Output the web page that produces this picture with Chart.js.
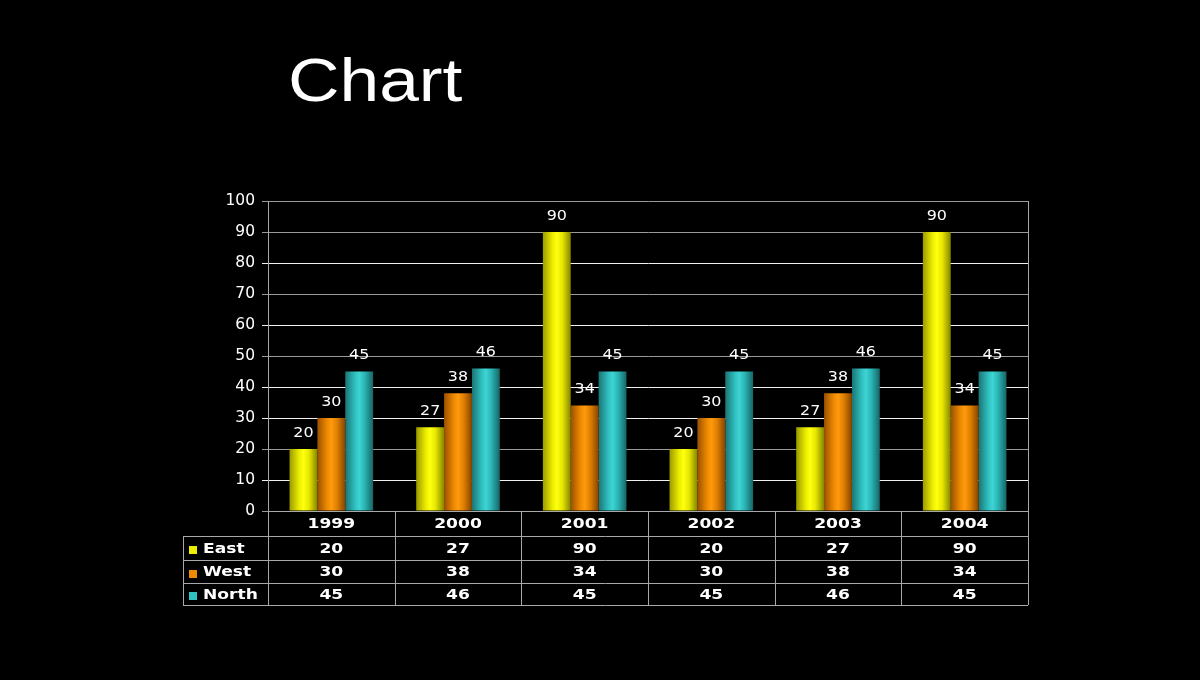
<!DOCTYPE html>
<html>
<head>
<meta charset="utf-8">
<style>
  html, body { margin: 0; padding: 0; background: #000; }
  #wrap { width: 1200px; height: 680px; }
</style>
<script src="https://cdn.jsdelivr.net/npm/chart.js@4/dist/chart.umd.min.js"></script>
</head>
<body>
<div id="wrap"><canvas id="chart1"></canvas></div>
<script>
const years = ['1999', '2000', '2001', '2002', '2003', '2004'];
const east = [20, 27, 90, 20, 27, 90];
const west = [30, 38, 34, 30, 38, 34];
const north = [45, 46, 45, 45, 46, 45];
const yTicks = [0, 10, 20, 30, 40, 50, 60, 70, 80, 90, 100];

// dark edge, bright middle, dark edge
const shades = [
    ['#9a9a00', '#eded00', '#ffff10', '#e6e600', '#858500'],
    ['#9a5000', '#ee8a00', '#ff9a10', '#e08000', '#854400'],
    ['#1c7474', '#2fc0c0', '#3fd4d4', '#2ab4b4', '#186464']
];
const CAT_PCT = 0.66;
const STRETCH = 1.18;
const gridWhite = [10, 30, 40, 60, 80];

function barFill(c) {
    const s = shades[c.datasetIndex];
    const xs = c.chart.scales.x;
    if (!xs || c.type !== 'data') return s[1];
    const w = xs.width / years.length * CAT_PCT / 3;
    const cx = xs.getPixelForValue(c.dataIndex) + (c.datasetIndex - 1) * w;
    if (!isFinite(cx)) return s[1];
    const g = c.chart.ctx.createLinearGradient(cx - w / 2, 0, cx + w / 2, 0);
    g.addColorStop(0, s[0]);
    g.addColorStop(0.35, s[1]);
    g.addColorStop(0.5, s[2]);
    g.addColorStop(0.7, s[3]);
    g.addColorStop(1, s[4]);
    return g;
}

function wideText(ctx, txt, x, y, font, align) {
    ctx.save();
    ctx.font = font;
    ctx.textBaseline = 'middle';
    ctx.textAlign = align;
    ctx.translate(x, y);
    ctx.scale(STRETCH, 1);
    ctx.fillText(txt, 0, 0);
    ctx.restore();
}

const slide = {
    id: 'slide',
    beforeDraw(chart) {
        const ctx = chart.ctx;
        ctx.save();
        ctx.fillStyle = '#000';
        ctx.fillRect(0, 0, chart.width, chart.height);
        ctx.fillStyle = '#fff';
        ctx.font = '62px "Liberation Sans", Arial, sans-serif';
        ctx.textBaseline = 'alphabetic';
        ctx.translate(288, 101);
        ctx.scale(1.15, 1);
        ctx.fillText('Chart', 0, 0);
        ctx.restore();
    },
    afterDatasetsDraw(chart) {
        const ctx = chart.ctx;
        ctx.fillStyle = '#fff';
        chart.data.datasets.forEach((ds, i) => {
            chart.getDatasetMeta(i).data.forEach((el, j) => {
                wideText(ctx, String(ds.data[j]), el.x, el.y - 16, '13.5px "DejaVu Sans", Verdana, sans-serif', 'center');
            });
        });
    },
    afterDraw(chart) {
        const ctx = chart.ctx;
        const xs = chart.scales.x;
        const area = chart.chartArea;
        const cw = xs.width / years.length;
        const left = 183;
        const rows = [area.bottom, area.bottom + 25, area.bottom + 49, area.bottom + 72, area.bottom + 94];
        ctx.save();
        ctx.strokeStyle = '#a8a8a8';
        ctx.lineWidth = 1;
        ctx.beginPath();
        // right border of the plot
        ctx.moveTo(area.right + 0.5, area.top);
        ctx.lineTo(area.right + 0.5, rows[4]);
        // row lines
        rows.forEach((y, k) => {
            ctx.moveTo(k === 0 ? area.left : left, Math.round(y) + 0.5);
            ctx.lineTo(area.right, Math.round(y) + 0.5);
        });
        // column lines
        ctx.moveTo(left + 0.5, rows[1]);
        ctx.lineTo(left + 0.5, rows[4]);
        for (let k = 0; k < years.length; k++) {
            const x = Math.round(area.left + k * cw) + 0.5;
            ctx.moveTo(x, rows[0]);
            ctx.lineTo(x, rows[4]);
        }
        ctx.stroke();

        ctx.fillStyle = '#fff';
        const bold = 'bold 14.5px "DejaVu Sans", Verdana, sans-serif';
        years.forEach((yr, k) => {
            wideText(ctx, yr, xs.getPixelForValue(k), (rows[0] + rows[1]) / 2 + 1, bold, 'center');
        });
        chart.data.datasets.forEach((ds, i) => {
            const yMid = (rows[i + 1] + rows[i + 2]) / 2 + 1;
            ctx.fillStyle = shades[i][1];
            ctx.fillRect(189, Math.round(yMid) - 3, 8, 8);
            ctx.fillStyle = '#fff';
            wideText(ctx, ds.label, 203, yMid, bold, 'left');
            ds.data.forEach((v, k) => {
                wideText(ctx, String(v), xs.getPixelForValue(k), yMid, bold, 'center');
            });
        });
        ctx.restore();
    }
};

const chart1 = new Chart(document.getElementById('chart1'), {
    type: 'bar',
    data: {
        labels: years,
        datasets: [
            { label: 'East', data: east, backgroundColor: barFill },
            { label: 'West', data: west, backgroundColor: barFill },
            { label: 'North', data: north, backgroundColor: barFill }
        ]
    },
    options: {
        responsive: true,
        maintainAspectRatio: false,
        animation: false,
        layout: { padding: { left: 0, top: 201, right: 172, bottom: 169 } },
        datasets: { bar: { categoryPercentage: CAT_PCT, barPercentage: 1 } },
        scales: {
            x: {
                afterFit(scale) { scale.height = 0; },
                ticks: { display: false },
                grid: { display: false },
                border: { display: false }
            },
            y: {
                min: 0,
                max: 100,
                afterFit(scale) { scale.width = 268; },
                afterBuildTicks(scale) { scale.ticks = yTicks.map(v => ({ value: v })); },
                ticks: {
                    color: '#fff',
                    padding: 7,
                    font: { family: '"DejaVu Sans", Verdana, sans-serif', size: 15.5 }
                },
                grid: {
                    color: c => gridWhite.includes(c.tick && c.tick.value) ? '#f0f0f0' : '#9a9a9a',
                    tickLength: 6,
                    lineWidth: 1
                },
                border: { color: '#a8a8a8' }
            }
        },
        plugins: {
            legend: { display: false },
            tooltip: { enabled: false },
            title: { display: false }
        }
    },
    plugins: [slide]
});
</script>
</body>
</html>
